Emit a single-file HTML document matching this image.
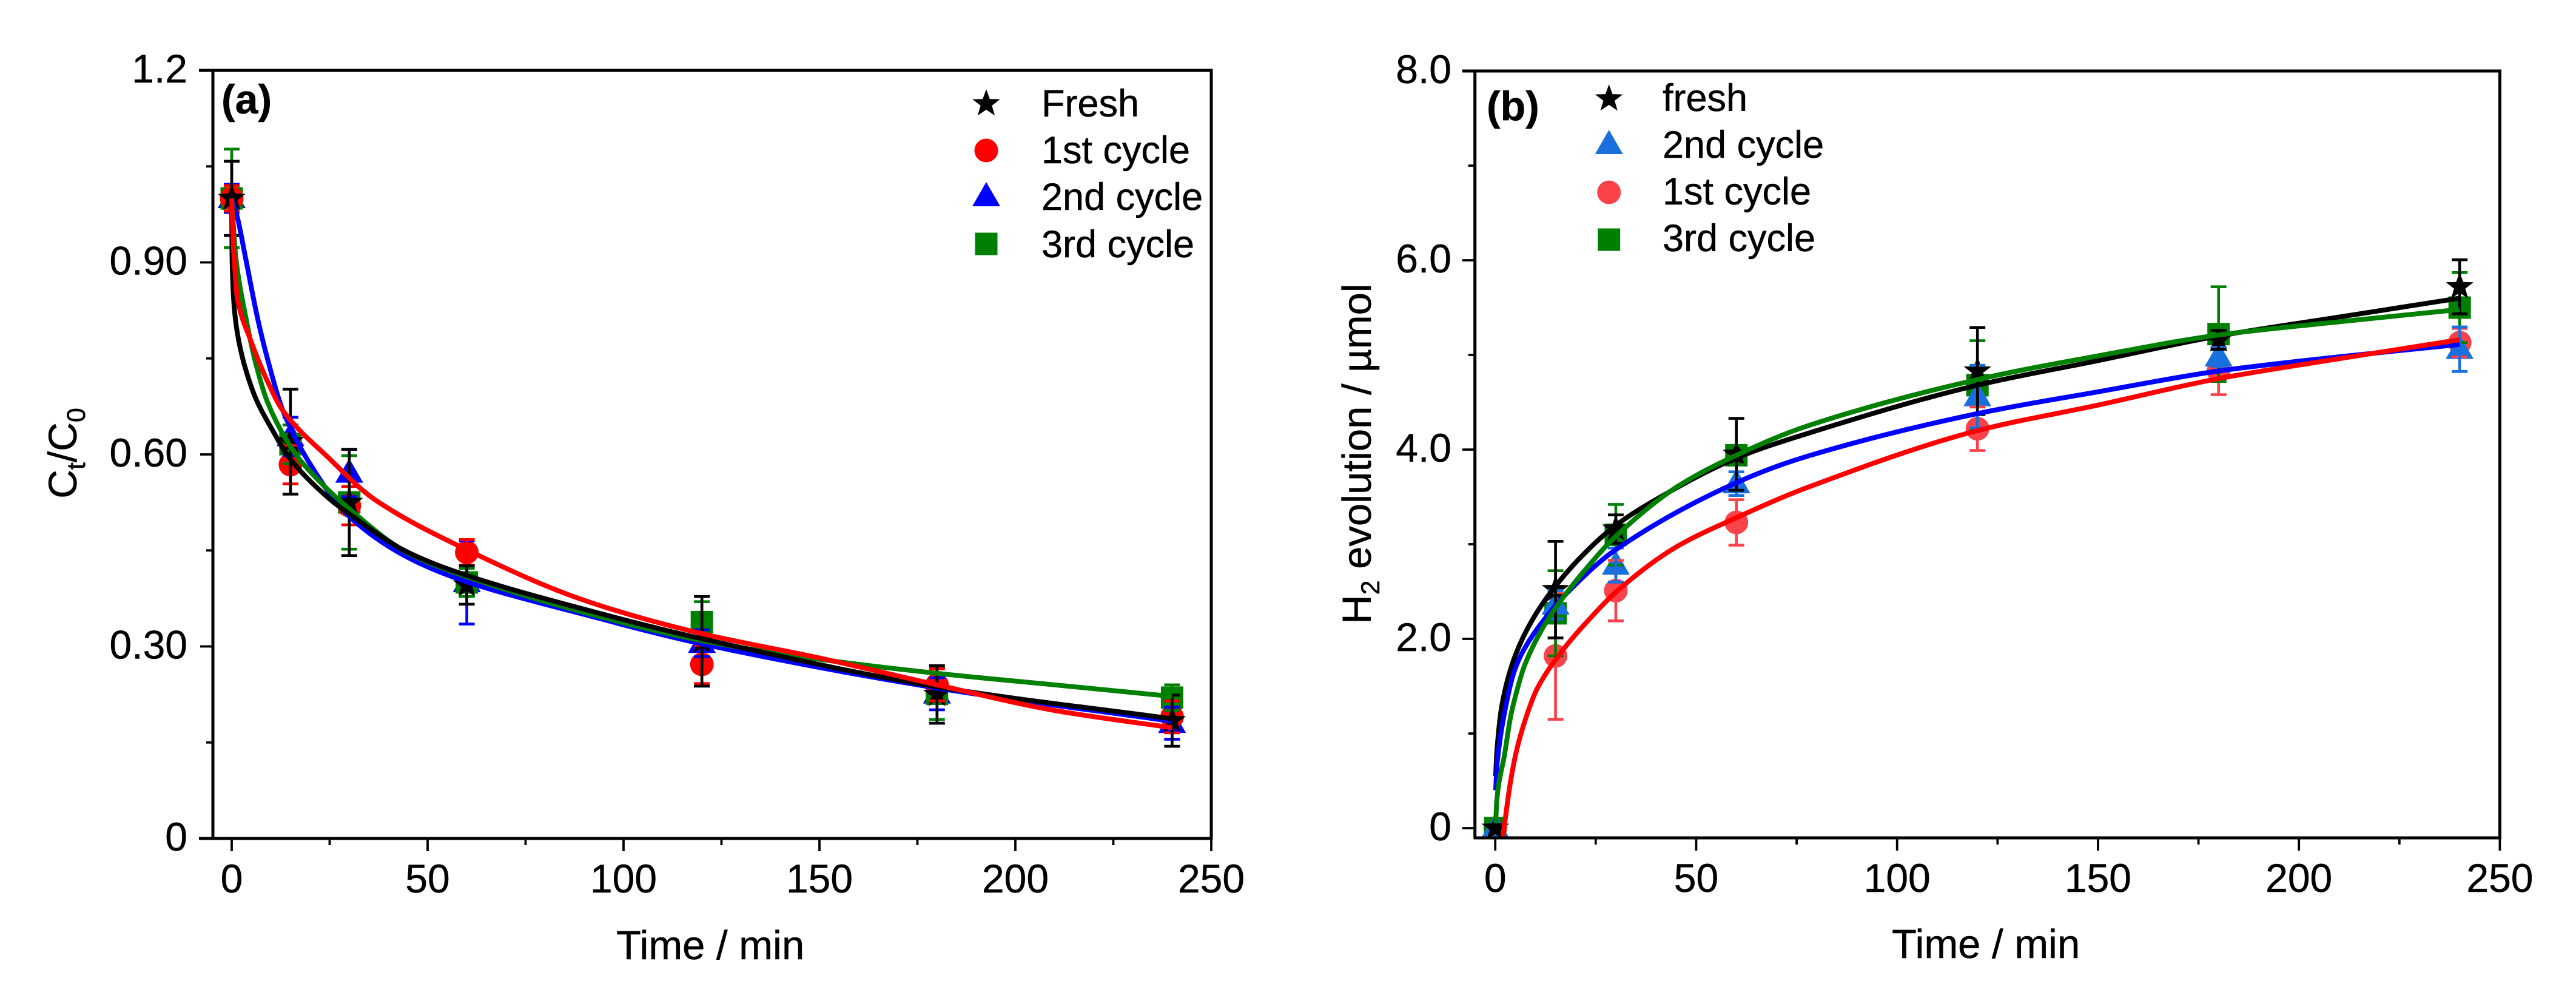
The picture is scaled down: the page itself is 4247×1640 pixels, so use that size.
<!DOCTYPE html>
<html lang="en">
<head>
<meta charset="utf-8">
<title>Cycling stability charts</title>
<style>
html,body{margin:0;padding:0;background:#fff;}
svg{display:block;}
text{font-family:"Liberation Sans",Arial,sans-serif;fill:#000;stroke:#000;stroke-width:.5px;}
</style>
</head>
<body>
<svg id="figure" xmlns="http://www.w3.org/2000/svg" width="4247" height="1640" viewBox="0 0 4247 1640">
  <rect width="4247" height="1640" fill="#fff"/>
  <defs>
    <clipPath id="clip-b"><rect x="2431" y="117" width="1691" height="1264"/></clipPath>
  </defs>

  <g id="panel-a">
    <g id="a-data"></g>
    <g id="a-axes"></g>
    <text x="365" y="187" font-size="68" font-weight="bold">(a)</text>
    <text x="1016" y="1581" font-size="67">Time / min</text>
    <text transform="translate(126,747) rotate(-90)" text-anchor="middle" font-size="66">C<tspan dy="14" font-size="43">t</tspan><tspan dy="-14">/C</tspan><tspan dy="14" font-size="43">0</tspan></text>
    <g id="a-legend">
      <text x="1717" y="192" font-size="63">Fresh</text>
      <text x="1717" y="269" font-size="63">1st cycle</text>
      <text x="1717" y="346" font-size="63">2nd cycle</text>
      <text x="1717" y="424" font-size="63">3rd cycle</text>
    </g>
  </g>

  <g id="panel-b">
    <g id="b-data" clip-path="url(#clip-b)"></g>
    <g id="b-axes"></g>
    <text x="2451" y="198" font-size="68" font-weight="bold">(b)</text>
    <text x="3119" y="1579" font-size="67">Time / min</text>
    <text transform="translate(2260,748) rotate(-90)" text-anchor="middle" font-size="67">H<tspan dy="14" font-size="43">2</tspan><tspan dy="-14"> evolution / µmol</tspan></text>
    <g id="b-legend">
      <text x="2741" y="183" font-size="63">fresh</text>
      <text x="2741" y="260" font-size="63">2nd cycle</text>
      <text x="2741" y="337" font-size="63">1st cycle</text>
      <text x="2741" y="414" font-size="63">3rd cycle</text>
    </g>
  </g>
</svg>

<script>
// ---------- Shared sampling times and tick definitions ----------
const sampleTimes = [0, 15, 30, 60, 120, 180, 240];
const xTickValues = [0, 50, 100, 150, 200, 250];
const xMinorTickValues = [25, 75, 125, 175, 225];
const xTickLabels = ['0', '50', '100', '150', '200', '250'];

// ---------- Panel (a): Ct/C0 ----------
const aYTickValues = [0, 0.3, 0.6, 0.9, 1.2];
const aYMinorTickValues = [0.15, 0.45, 0.75, 1.05];
const aYTickLabels = ['0', '0.30', '0.60', '0.90', '1.2'];

const aFresh = [1.0, 0.62, 0.525, 0.396, 0.308, 0.225, 0.184];
const aFreshErr = [0.058, 0.082, 0.083, 0.03, 0.07, 0.045, 0.04];
const aFirst = [1.0, 0.584, 0.52, 0.447, 0.272, 0.24, 0.19];
const aFirstErr = [0.02, 0.03, 0.03, 0.02, 0.03, 0.025, 0.025];
const aSecond = [1.0, 0.628, 0.571, 0.40, 0.305, 0.226, 0.18];
const aSecondErr = [0.022, 0.03, 0.037, 0.065, 0.021, 0.025, 0.025];
const aThird = [1.0, 0.616, 0.525, 0.40, 0.338, 0.226, 0.22];
const aThirdErr = [0.077, 0.03, 0.073, 0.022, 0.032, 0.04, 0.02];

const aFitFreshT = [0, 0.1, 0.7, 1.75, 3.6, 6.4, 10.5, 14.9, 24.5, 30, 45, 60, 90, 120, 180, 240];
const aFitFresh = [1, 0.905, 0.826, 0.779, 0.732, 0.684, 0.637, 0.593, 0.533, 0.507, 0.447, 0.411, 0.358, 0.312, 0.237, 0.187];
const aFitFirstT = [0, 0.5, 1.5, 4.8, 9, 13.1, 25, 36.4, 60, 90, 120, 150, 180, 210, 240];
const aFitFirst = [1, 0.92, 0.842, 0.779, 0.716, 0.668, 0.593, 0.53, 0.451, 0.372, 0.32, 0.282, 0.24, 0.2, 0.173];
const aFitSecondT = [0, 1.5, 3.6, 6.7, 9.2, 13.1, 20, 30, 45, 60, 90, 120, 180, 240];
const aFitSecond = [1, 0.969, 0.905, 0.81, 0.748, 0.668, 0.585, 0.503, 0.439, 0.401, 0.35, 0.304, 0.235, 0.183];
const aFitThirdT = [0, 0.3, 1.1, 3.7, 5.9, 9, 14.1, 18.3, 30, 45, 60, 90, 120, 150, 180, 210, 240];
const aFitThird = [1, 0.97, 0.905, 0.811, 0.748, 0.684, 0.621, 0.585, 0.515, 0.446, 0.409, 0.353, 0.309, 0.28, 0.258, 0.24, 0.222];

// ---------- Panel (b): H2 evolution ----------
const bYTickValues = [0, 2, 4, 6, 8];
const bYMinorTickValues = [1, 3, 5, 7];
const bYTickLabels = ['0', '2.0', '4.0', '6.0', '8.0'];

const bFresh = [0, 2.52, 3.16, 3.95, 4.83, 5.16, 5.72];
const bFreshErr = [0, 0.51, 0.15, 0.38, 0.46, 0.1, 0.285];
const bSecond = [0, 2.36, 2.78, 3.64, 4.56, 4.98, 5.06];
const bSecondErr = [0, 0.15, 0.18, 0.125, 0.33, 0.1, 0.235];
const bFirst = [0, 1.82, 2.51, 3.23, 4.22, 4.83, 5.13];
const bFirstErr = [0, 0.67, 0.32, 0.24, 0.23, 0.25, 0.15];
const bThird = [0, 2.27, 3.10, 3.94, 4.68, 5.22, 5.5];
const bThirdErr = [0, 0.45, 0.32, 0.1, 0.47, 0.5, 0.37];

const bFitFreshT = [0.1, 0.4, 1.7, 4.95, 9.5, 15.6, 22.6, 29.7, 38.3, 60, 77.7, 120, 150, 180, 210, 240];
const bFitFresh = [0.55, 0.81, 1.31, 1.82, 2.22, 2.59, 2.92, 3.19, 3.43, 3.91, 4.17, 4.68, 4.94, 5.2, 5.4, 5.6];
const bFitSecondT = [0.1, 0.5, 2.2, 4.75, 7.3, 12.3, 17.3, 29.9, 60, 77.7, 120, 150, 180, 210, 240];
const bFitSecond = [0.4, 0.7, 1.196, 1.66, 1.9, 2.21, 2.46, 2.94, 3.65, 3.93, 4.38, 4.61, 4.83, 4.98, 5.11];
const bFitThirdT = [0.1, 0.4, 1, 2.2, 3.7, 4.75, 7.3, 12.3, 17.3, 22.4, 29.9, 45, 60, 77.7, 120, 150, 180, 210, 240];
const bFitThird = [0.05, 0.3, 0.5, 0.75, 1.15, 1.35, 1.72, 2.15, 2.46, 2.73, 3.08, 3.6, 3.94, 4.25, 4.74, 4.99, 5.21, 5.35, 5.48];
const bFitFirstT = [1.9, 2.5, 3.74, 5.25, 7.5, 10.5, 16.6, 22.6, 30.7, 45, 60, 77.7, 120, 150, 180, 210, 240];
const bFitFirst = [-0.1, 0.1, 0.476, 0.81, 1.15, 1.48, 1.87, 2.17, 2.52, 2.97, 3.28, 3.6, 4.2, 4.47, 4.75, 4.96, 5.16];

// ---------- Axis functions ----------
const NS = 'http://www.w3.org/2000/svg';
const xA = t => 382 + 6.46 * t;
const yA = v => 1382 - 1055 * v;
const xB = t => 2465.2 + 6.625 * t;
const yB = v => 1365 - 156 * v;

function make(tag, attrs, parent) {
  const node = document.createElementNS(NS, tag);
  for (const k in attrs) node.setAttribute(k, attrs[k]);
  parent.appendChild(node);
  return node;
}

function smoothPath(ts, vs, xf, yf) {
  const px = ts.map(xf), py = vs.map(yf), n = px.length;
  const d = [], m = new Array(n).fill(0);
  for (let i = 0; i < n - 1; i++) d.push((py[i + 1] - py[i]) / (px[i + 1] - px[i]));
  m[0] = d[0];
  m[n - 1] = d[n - 2];
  for (let i = 1; i < n - 1; i++) {
    m[i] = d[i - 1] * d[i] <= 0 ? 0 : 2 * d[i - 1] * d[i] / (d[i - 1] + d[i]);
  }
  let path = 'M' + px[0].toFixed(1) + ' ' + py[0].toFixed(1);
  for (let i = 0; i < n - 1; i++) {
    const h = (px[i + 1] - px[i]) / 3;
    path += ' C' + (px[i] + h).toFixed(1) + ' ' + (py[i] + m[i] * h).toFixed(1) + ' ' +
      (px[i + 1] - h).toFixed(1) + ' ' + (py[i + 1] - m[i + 1] * h).toFixed(1) + ' ' +
      px[i + 1].toFixed(1) + ' ' + py[i + 1].toFixed(1);
  }
  return path;
}

function marker(kind, cx, cy, color, parent) {
  if (kind === 'circle') {
    return make('circle', { cx: cx, cy: cy, r: 19.5, fill: color }, parent);
  }
  if (kind === 'square') {
    return make('rect', { x: cx - 18.5, y: cy - 18.5, width: 37, height: 37, fill: color }, parent);
  }
  if (kind === 'triangle') {
    const pts = [[cx, cy - 24], [cx + 23, cy + 16], [cx - 23, cy + 16]];
    return make('polygon', { points: pts.map(p => p.join(',')).join(' '), fill: color }, parent);
  }
  const pts = [];
  for (let i = 0; i < 10; i++) {
    const r = i % 2 === 0 ? 24 : 9.8;
    const ang = -Math.PI / 2 + i * Math.PI / 5;
    pts.push((cx + r * Math.cos(ang)).toFixed(1) + ',' + (cy + r * Math.sin(ang)).toFixed(1));
  }
  return make('polygon', { points: pts.join(' '), fill: color }, parent);
}

function drawAxes(cfg) {
  const g = document.getElementById(cfg.id);
  const frame = make('path', {
    d: 'M' + cfg.topTickX + ' ' + cfg.top + ' H' + cfg.right + ' V' + cfg.bottom + ' H' + cfg.bottomStartX +
       ' M' + cfg.left + ' ' + cfg.top + ' V' + cfg.bottom,
    fill: 'none', stroke: '#000', 'stroke-width': 5
  }, g);
  
  

  xTickValues.forEach((t, i) => {
    const tick = make('line', { x1: cfg.x(t), x2: cfg.x(t), y1: cfg.bottom, y2: cfg.bottom + 21, stroke: '#000', 'stroke-width': 3.8 }, g);
    
    
    const label = make('text', { x: cfg.x(t), y: cfg.xLabelY, 'text-anchor': 'middle', 'font-size': 66 }, g);
    label.textContent = xTickLabels[i];
    
    
  });
  xMinorTickValues.forEach(t => {
    const tick = make('line', { x1: cfg.x(t), x2: cfg.x(t), y1: cfg.bottom, y2: cfg.bottom + 11, stroke: '#000', 'stroke-width': 3.8 }, g);
    
    
  });
  cfg.yTicks.forEach((v, i) => {
    const tick = make('line', { x1: cfg.left, x2: cfg.left - 21, y1: cfg.y(v), y2: cfg.y(v), stroke: '#000', 'stroke-width': 3.8 }, g);
    
    
    const label = make('text', { x: cfg.yLabelX, y: cfg.y(v) + 20, 'text-anchor': 'end', 'font-size': 66 }, g);
    label.textContent = cfg.yLabels[i];
    
    
  });
  cfg.yMinor.forEach(v => {
    const tick = make('line', { x1: cfg.left, x2: cfg.left - 11, y1: cfg.y(v), y2: cfg.y(v), stroke: '#000', 'stroke-width': 3.8 }, g);
    
    
  });
}

function drawPoints(parentId, series, xf, yf) {
  const g = document.getElementById(parentId);
  series.forEach(s => {
    s.values.forEach((v, i) => {
      const m = marker(s.kind, xf(sampleTimes[i]), yf(v), s.color, g);
      
      
    });
  });
  series.forEach(s => {
    s.values.forEach((v, i) => {
      if (!s.err[i]) return;
      const x = xf(sampleTimes[i]), y1 = yf(v - s.err[i]), y2 = yf(v + s.err[i]);
      const bar = make('path', {
        d: 'M' + x + ' ' + y1 + ' V' + y2 + ' M' + (x - 13) + ' ' + y1 + ' H' + (x + 13) + ' M' + (x - 13) + ' ' + y2 + ' H' + (x + 13),
        fill: 'none', stroke: s.errColor, 'stroke-width': 4.6
      }, g);
      
      
    });
  });
}

function drawFits(parentId, fits, xf, yf) {
  const g = document.getElementById(parentId);
  fits.forEach(f => {
    const p = make('path', { d: smoothPath(f.t, f.v, xf, yf), fill: 'none', stroke: f.color, 'stroke-width': 8, 'stroke-linejoin': 'round' }, g);
    
    
  });
}

function drawLegend(parentId, entries, cx) {
  const g = document.getElementById(parentId);
  entries.forEach(e => {
    const m = marker(e.kind, cx, e.y, e.color, g);
    
    
  });
}

// ---------- Panel (a) ----------
drawPoints('a-data', [
  { name: 'second-cycle', kind: 'triangle', color: '#0000ff', errColor: '#0000ff', values: aSecond, err: aSecondErr },
  { name: 'third-cycle', kind: 'square', color: '#008000', errColor: '#008000', values: aThird, err: aThirdErr },
  { name: 'first-cycle', kind: 'circle', color: '#ff0000', errColor: '#ff0000', values: aFirst, err: aFirstErr },
  { name: 'fresh', kind: 'star', color: '#000000', errColor: '#000000', values: aFresh, err: aFreshErr }
], xA, yA);
drawFits('a-data', [
  { name: 'second-cycle', color: '#0000ff', t: aFitSecondT, v: aFitSecond },
  { name: 'third-cycle', color: '#008000', t: aFitThirdT, v: aFitThird },
  { name: 'fresh', color: '#000000', t: aFitFreshT, v: aFitFresh },
  { name: 'first-cycle', color: '#ff0000', t: aFitFirstT, v: aFitFirst }
], xA, yA);
drawAxes({
  id: 'a-axes', x: xA, y: yA, left: 351, right: 1997, top: 116, bottom: 1382,
  topTickX: 328, bottomStartX: 328, xLabelY: 1471, yLabelX: 309,
  yTicks: aYTickValues, yMinor: aYMinorTickValues, yLabels: aYTickLabels
});
drawLegend('a-legend', [
  { name: 'fresh', kind: 'star', color: '#000000', y: 171 },
  { name: 'first-cycle', kind: 'circle', color: '#ff0000', y: 248 },
  { name: 'second-cycle', kind: 'triangle', color: '#0000ff', y: 324 },
  { name: 'third-cycle', kind: 'square', color: '#008000', y: 402 }
], 1626);

// ---------- Panel (b) ----------
drawPoints('b-data', [
  { name: 'first-cycle', kind: 'circle', color: '#f9424a', errColor: '#f9424a', values: bFirst, err: bFirstErr },
  { name: 'third-cycle', kind: 'square', color: '#008000', errColor: '#008000', values: bThird, err: bThirdErr },
  { name: 'second-cycle', kind: 'triangle', color: '#1a6fdf', errColor: '#1a6fdf', values: bSecond, err: bSecondErr },
  { name: 'fresh', kind: 'star', color: '#000000', errColor: '#000000', values: bFresh, err: bFreshErr }
], xB, yB);
drawFits('b-data', [
  { name: 'fresh', color: '#000000', t: bFitFreshT, v: bFitFresh },
  { name: 'second-cycle', color: '#0000ff', t: bFitSecondT, v: bFitSecond },
  { name: 'third-cycle', color: '#008000', t: bFitThirdT, v: bFitThird },
  { name: 'first-cycle', color: '#ff0000', t: bFitFirstT, v: bFitFirst }
], xB, yB);
drawAxes({
  id: 'b-axes', x: xB, y: yB, left: 2431.7, right: 4121.5, top: 117, bottom: 1381,
  topTickX: 2411, bottomStartX: 2429.5, xLabelY: 1470, yLabelX: 2393,
  yTicks: bYTickValues, yMinor: bYMinorTickValues, yLabels: bYTickLabels
});
drawLegend('b-legend', [
  { name: 'fresh', kind: 'star', color: '#000000', y: 163 },
  { name: 'second-cycle', kind: 'triangle', color: '#1a6fdf', y: 238 },
  { name: 'first-cycle', kind: 'circle', color: '#f9424a', y: 317 },
  { name: 'third-cycle', kind: 'square', color: '#008000', y: 395 }
], 2652.7);
</script>
</body>
</html>
